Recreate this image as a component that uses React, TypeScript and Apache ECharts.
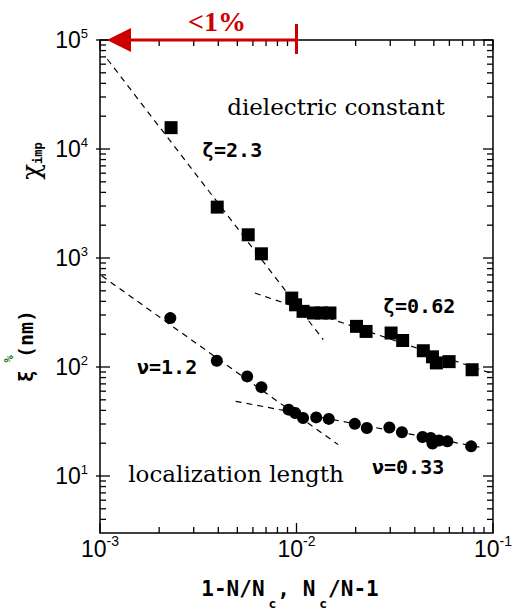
import React, { useEffect, useRef } from 'react';
import * as echarts from 'echarts';

// Dielectric constant (χ_imp) vs distance from the critical concentration
const chiX = [0.0023, 0.00395, 0.00568, 0.00663, 0.00946, 0.00989, 0.0108, 0.0122, 0.0134, 0.0148, 0.0202, 0.0226, 0.0303, 0.0347, 0.0442, 0.0492, 0.0515, 0.0598, 0.0783];
const chiY = [15700, 2930, 1633, 1093, 429, 372, 324, 313, 313, 313, 236, 212, 205, 175, 141, 124, 109, 112, 94.4];

// Localization length ξ (nm)
const xiX = [0.00228, 0.00393, 0.00561, 0.00663, 0.00912, 0.00985, 0.0108, 0.0126, 0.0146, 0.0198, 0.0228, 0.0297, 0.0344, 0.0438, 0.0482, 0.0492, 0.0532, 0.0586, 0.0774];
const xiY = [281, 114, 82, 65.3, 40.6, 37.8, 34.1, 34.5, 33.4, 30.1, 27.6, 27.9, 25.2, 22.8, 22.3, 19.9, 21.2, 20.8, 18.7];

// Power-law guide lines (end points)
const chiFitSteep = [[0.00109, 66600], [0.01368, 178]];
const chiFitShallow = [[0.00614, 477], [0.0969, 88.1]];
const xiFitSteep = [[0.00102, 687], [0.0163, 19.4]];
const xiFitShallow = [[0.0049, 48.4], [0.0897, 18.1]];

// Axis ranges and "<1%" arrow span
const xRange = [0.001, 0.1];
const yRange = [3, 100000];
const arrowSpan = [0.001, 0.01];

// Log-axis tick layout
const minorSteps = [2, 3, 4, 5, 6, 7, 8, 9];
const xDecades = [0.001, 0.01, 0.1];
const yDecades = [1, 10, 100, 1000, 10000, 100000];

const MONO = '"DejaVu Sans Mono", monospace';
const SERIF = '"DejaVu Serif", serif';
const SANS = '"Liberation Sans", Arial, sans-serif';

function buildTicks(decades: number[], lo: number, hi: number) {
  const out: { v: number; major: number }[] = [];
  decades.forEach((d) => {
    if (d >= lo * 0.999 && d <= hi * 1.001) out.push({ v: d, major: 1 });
    minorSteps.forEach((m) => {
      const v = d * m;
      if (v > lo * 1.001 && v < hi * 0.999) out.push({ v, major: 0 });
    });
  });
  return out;
}

function powLabel(v: number) {
  const e = Math.round(Math.log10(v));
  const p = Math.pow(10, e);
  if (Math.abs(v - p) / p > 1e-6) return '';
  return `{b|10}{s|${e}}`;
}

export default function App() {
  const ref = useRef<HTMLDivElement>(null);

  useEffect(() => {
    if (!ref.current) return;
    const chart = echarts.init(ref.current, undefined, { renderer: 'svg' });

    const xTicks = buildTicks(xDecades, xRange[0], xRange[1]);
    const yTicks = buildTicks(yDecades, yRange[0], yRange[1]);
    const tickStyle = { stroke: '#000', lineWidth: 1.3 };

    const dashed = (data: number[][]) => ({
      type: 'line',
      data,
      symbol: 'none',
      silent: true,
      z: 2,
      lineStyle: { color: '#000', width: 1.2, type: [6, 5], opacity: 1 },
    });

    const center = {
      align: 'center',
      verticalAlign: 'middle',
      textAlign: 'center',
      textVerticalAlign: 'middle',
    };

    const option: any = {
      animation: false,
      backgroundColor: '#fff',
      grid: {
        left: 100,
        top: 40,
        width: 396,
        height: 493,
        show: true,
        borderColor: '#000',
        borderWidth: 1.5,
        backgroundColor: 'transparent',
      },
      xAxis: {
        type: 'log',
        logBase: 10,
        min: xRange[0],
        max: xRange[1],
        axisLine: { show: false },
        axisTick: { show: false },
        splitLine: { show: false },
        axisLabel: {
          margin: 1,
          showMinLabel: true,
          showMaxLabel: true,
          formatter: powLabel,
          rich: {
            b: { fontFamily: SANS, fontSize: 23, lineHeight: 30, color: '#000' },
            s: { fontFamily: SANS, fontSize: 14, lineHeight: 13, color: '#000', verticalAlign: 'top' },
          },
        },
      },
      yAxis: {
        type: 'log',
        logBase: 10,
        min: yRange[0],
        max: yRange[1],
        axisLine: { show: false },
        axisTick: { show: false },
        splitLine: { show: false },
        axisLabel: {
          margin: 12,
          showMinLabel: true,
          showMaxLabel: true,
          formatter: powLabel,
          rich: {
            b: { fontFamily: SANS, fontSize: 23, lineHeight: 26, color: '#000' },
            s: { fontFamily: SANS, fontSize: 13, lineHeight: 14, color: '#000', verticalAlign: 'top' },
          },
        },
      },
      series: [
        // x ticks on bottom and top frame
        {
          type: 'custom',
          coordinateSystem: 'cartesian2d',
          silent: true,
          z: 3,
          data: xTicks.map((t) => [t.v, 1000, t.major]),
          encode: { x: 0, y: 1 },
          renderItem: (params: any, api: any) => {
            const cs = params.coordSys;
            const px = api.coord([api.value(0), 1000])[0];
            const len = api.value(2) ? 10 : 6;
            const b = cs.y + cs.height;
            const t = cs.y;
            return {
              type: 'group',
              children: [
                { type: 'line', shape: { x1: px, y1: b, x2: px, y2: b - len }, style: tickStyle },
                { type: 'line', shape: { x1: px, y1: t, x2: px, y2: t + len }, style: tickStyle },
              ],
            };
          },
        },
        // y ticks on left and right frame
        {
          type: 'custom',
          coordinateSystem: 'cartesian2d',
          silent: true,
          z: 3,
          data: yTicks.map((t) => [0.01, t.v, t.major]),
          encode: { x: 0, y: 1 },
          renderItem: (params: any, api: any) => {
            const cs = params.coordSys;
            const py = api.coord([0.01, api.value(1)])[1];
            const len = api.value(2) ? 10 : 6;
            const l = cs.x;
            const r = cs.x + cs.width;
            return {
              type: 'group',
              children: [
                { type: 'line', shape: { x1: l - (api.value(2) ? 4 : 0), y1: py, x2: l + len, y2: py }, style: tickStyle },
                { type: 'line', shape: { x1: r, y1: py, x2: r - len, y2: py }, style: tickStyle },
              ],
            };
          },
        },
        dashed(chiFitSteep),
        dashed(chiFitShallow),
        dashed(xiFitSteep),
        dashed(xiFitShallow),
        {
          type: 'scatter',
          name: 'dielectric constant',
          symbol: 'rect',
          symbolSize: 13,
          z: 4,
          itemStyle: { color: '#000', opacity: 1 },
          data: chiX.map((x, i) => [x, chiY[i]]),
        },
        {
          type: 'scatter',
          name: 'localization length',
          symbol: 'circle',
          symbolSize: 12,
          z: 4,
          itemStyle: { color: '#000', opacity: 1 },
          data: xiX.map((x, i) => [x, xiY[i]]),
        },
        // "<1%" range arrow along the top frame
        {
          type: 'custom',
          coordinateSystem: 'cartesian2d',
          silent: true,
          z: 6,
          clip: false,
          data: [[arrowSpan[0], yRange[1], arrowSpan[1]]],
          encode: { x: 0, y: 1 },
          renderItem: (_params: any, api: any) => {
            const p0 = api.coord([api.value(0), api.value(1)]);
            const p1 = api.coord([api.value(2), api.value(1)]);
            const red = '#cc0000';
            const tipX = p0[0] + 7;
            const backX = p0[0] + 31;
            return {
              type: 'group',
              children: [
                { type: 'line', shape: { x1: backX - 2, y1: p0[1], x2: p1[0], y2: p1[1] }, style: { stroke: red, lineWidth: 3 } },
                {
                  type: 'polygon',
                  shape: { points: [[tipX, p0[1]], [backX, p0[1] - 12], [backX, p0[1] + 12]] },
                  style: { fill: red },
                },
                { type: 'line', shape: { x1: p1[0], y1: p1[1] - 16, x2: p1[0], y2: p1[1] + 14 }, style: { stroke: red, lineWidth: 3 } },
              ],
            };
          },
        },
      ],
      graphic: [
        {
          type: 'text',
          x: 217,
          y: 21,
          style: {
            text: '<1%',
            fontFamily: '"Liberation Serif", serif',
            fontWeight: 'bold',
            fontSize: 28,
            fill: '#cc0000',
            ...center,
          },
        },
        {
          type: 'text',
          x: 336,
          y: 107,
          style: { text: 'dielectric constant', fontFamily: SERIF, fontSize: 23, fill: '#000', ...center },
        },
        {
          type: 'text',
          x: 236,
          y: 474,
          style: { text: 'localization length', fontFamily: SERIF, fontSize: 23, fill: '#000', ...center },
        },
        ...[
          { t: 'ζ=2.3', x: 202, y: 150 },
          { t: 'ζ=0.62', x: 383, y: 306 },
          { t: 'ν=1.2', x: 137, y: 367 },
          { t: 'ν=0.33', x: 372, y: 467 },
        ].map((d) => ({
          type: 'text',
          x: d.x,
          y: d.y,
          style: {
            text: d.t,
            fontFamily: MONO,
            fontWeight: 'bold',
            fontSize: 20,
            fill: '#000',
            align: 'left',
            verticalAlign: 'middle',
            textAlign: 'left',
            textVerticalAlign: 'middle',
          },
        })),
        {
          type: 'text',
          x: 290,
          y: 603,
          style: {
            text: '{t|1-N/N}{s|c}{t|, N}{s|c}{t|/N-1}',
            ...center,
            rich: {
              t: { fontFamily: MONO, fontWeight: 'bold', fontSize: 21, lineHeight: 24, fill: '#000', verticalAlign: 'top' },
              s: { fontFamily: MONO, fontWeight: 'bold', fontSize: 13, lineHeight: 50, fill: '#000', padding: [0, 1, 0, 4] },
            },
          },
        },
        {
          type: 'text',
          x: 31,
          y: 161,
          rotation: Math.PI / 2,
          style: {
            text: '{g|χ}{s|imp}',
            ...center,
            rich: {
              g: { fontFamily: SERIF, fontSize: 26, lineHeight: 26, fill: '#000' },
              s: { fontFamily: MONO, fontWeight: 'bold', fontSize: 12, lineHeight: 12, fill: '#000', verticalAlign: 'bottom' },
            },
          },
        },
        {
          type: 'text',
          x: 26,
          y: 346,
          rotation: Math.PI / 2,
          style: { text: 'ξ (nm)', fontFamily: MONO, fontWeight: 'bold', fontSize: 20, fill: '#000', ...center },
        },
        {
          type: 'text',
          x: 9,
          y: 359,
          rotation: Math.PI / 2,
          style: { text: '%', fontFamily: MONO, fontWeight: 'bold', fontSize: 12, fill: '#1f7f1f', ...center },
        },
      ],
    };

    chart.setOption(option);
    return () => chart.dispose();
  }, []);

  return (
    <div
      ref={ref}
      style={{ position: 'absolute', left: 0, top: 0, width: 515, height: 609, background: '#fff' }}
    />
  );
}
